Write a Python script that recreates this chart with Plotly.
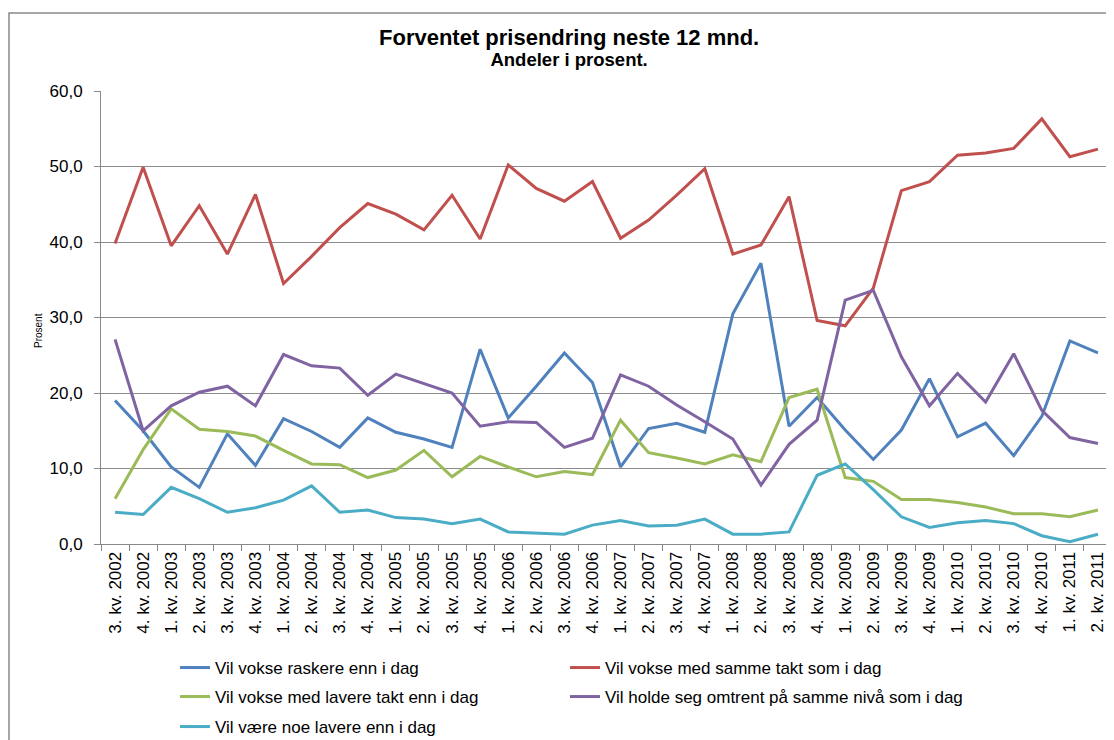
import plotly.graph_objects as go

quarters = [
    "3. kv. 2002", "4. kv. 2002",
    "1. kv. 2003", "2. kv. 2003", "3. kv. 2003", "4. kv. 2003",
    "1. kv. 2004", "2. kv. 2004", "3. kv. 2004", "4. kv. 2004",
    "1. kv. 2005", "2. kv. 2005", "3. kv. 2005", "4. kv. 2005",
    "1. kv. 2006", "2. kv. 2006", "3. kv. 2006", "4. kv. 2006",
    "1. kv. 2007", "2. kv. 2007", "3. kv. 2007", "4. kv. 2007",
    "1. kv. 2008", "2. kv. 2008", "3. kv. 2008", "4. kv. 2008",
    "1. kv. 2009", "2. kv. 2009", "3. kv. 2009", "4. kv. 2009",
    "1. kv. 2010", "2. kv. 2010", "3. kv. 2010", "4. kv. 2010",
    "1. kv. 2011", "2. kv. 2011",
]

raskere = [19.0, 15.0, 10.2, 7.5, 14.6, 10.4, 16.6, 14.9, 12.8, 16.7, 14.8, 13.9,
           12.8, 25.8, 16.7, 20.9, 25.3, 21.4, 10.2, 15.3, 16.0, 14.8, 30.5, 37.2,
           15.6, 19.4, 15.1, 11.2, 15.1, 21.9, 14.2, 16.0, 11.7, 16.9, 26.9, 25.3]
samme_takt = [39.8, 49.9, 39.5, 44.8, 38.4, 46.3, 34.5, 38.1, 41.9, 45.1, 43.7, 41.6,
              46.2, 40.4, 50.2, 47.1, 45.4, 48.0, 40.5, 42.9, 46.2, 49.7, 38.4, 39.6,
              46.0, 29.6, 28.9, 33.9, 46.8, 48.0, 51.5, 51.8, 52.4, 56.3, 51.3, 52.3]
lavere_takt = [6.0, 12.5, 17.9, 15.2, 14.9, 14.3, 12.4, 10.6, 10.5, 8.8, 9.8, 12.4,
               8.9, 11.6, 10.2, 8.9, 9.6, 9.2, 16.4, 12.1, 11.4, 10.6, 11.8, 10.9,
               19.4, 20.5, 8.8, 8.3, 5.9, 5.9, 5.5, 4.9, 4.0, 4.0, 3.6, 4.5]
samme_niva = [27.1, 15.0, 18.3, 20.1, 20.9, 18.3, 25.1, 23.6, 23.3, 19.7, 22.5, 21.3,
              20.0, 15.6, 16.2, 16.1, 12.8, 14.0, 22.4, 20.9, 18.4, 16.2, 13.9, 7.8,
              13.2, 16.4, 32.3, 33.6, 24.8, 18.3, 22.6, 18.8, 25.2, 17.7, 14.1, 13.3]
noe_lavere = [4.2, 3.9, 7.5, 6.0, 4.2, 4.8, 5.8, 7.7, 4.2, 4.5, 3.5, 3.3,
              2.7, 3.3, 1.6, 1.5, 1.3, 2.5, 3.1, 2.4, 2.5, 3.3, 1.3, 1.3,
              1.6, 9.1, 10.6, 7.2, 3.6, 2.2, 2.8, 3.1, 2.7, 1.1, 0.3, 1.3]

series_names = [
    "Vil vokse raskere enn i dag",
    "Vil vokse med samme takt som i dag",
    "Vil vokse med lavere takt enn i dag",
    "Vil holde seg omtrent på samme nivå som i dag",
    "Vil være noe lavere enn i dag",
]
series_values = [raskere, samme_takt, lavere_takt, samme_niva, noe_lavere]
series_colors = ["#4F81BD", "#C0504D", "#9BBB59", "#8064A2", "#4BACC6"]

FONT = "Liberation Sans, Arial, sans-serif"
PAGE_OFF = 8                      # default body margin of the html page
W, H = 1114 - PAGE_OFF, 740 - PAGE_OFF
# plot area in screen pixels: left 101, right 1112, top 91, bottom 544
L = 101 - PAGE_OFF
T = 91 - PAGE_OFF
R = W - (1112 - PAGE_OFF)
B = H - (544 - PAGE_OFF)
PW, PH = W - L - R, H - T - B


def sx(px):
    """screen x pixel -> paper x"""
    return (px - PAGE_OFF - L) / PW


def sy(py):
    """screen y pixel -> paper y"""
    return (H - B - (py - PAGE_OFF)) / PH


# legend slots (line start x, row centre y) in screen pixels
legend_ids = ["legend", "legend2", "legend3", "legend4", "legend5"]
legend_slots = [(183, 668), (573, 668), (183, 697), (573, 697), (183, 727)]
LEG_OFFSET = 8

fig = go.Figure()
for name, vals, col, lid in zip(series_names, series_values, series_colors, legend_ids):
    fig.add_trace(go.Scatter(
        x=quarters, y=vals, name=name, mode="lines",
        line=dict(color=col, width=3), legend=lid,
    ))

legend_layout = {}
for lid, (lx, ly) in zip(legend_ids, legend_slots):
    legend_layout[lid] = dict(
        xref="container", yref="container",
        x=(lx - PAGE_OFF - LEG_OFFSET) / W, xanchor="left",
        y=1 - (ly - PAGE_OFF) / H, yanchor="middle",
        font=dict(family=FONT, size=17, color="#000000"),
        bgcolor="rgba(0,0,0,0)", borderwidth=0,
    )

fig.update_layout(
    width=W, height=H,
    margin=dict(l=L, r=R, t=T, b=B, pad=0, autoexpand=False),
    paper_bgcolor="white", plot_bgcolor="white",
    separators=", ",
    font=dict(family=FONT, size=17, color="#000000"),
    showlegend=True,
    xaxis=dict(
        type="category",
        range=[-0.5, len(quarters) - 0.5],
        tickangle=-90,
        ticks="outside", ticklen=6, tickcolor="#888888",
        tickson="boundaries",
        showline=True, linecolor="#888888", linewidth=1,
        showgrid=False, automargin=False,
        tickfont=dict(family=FONT, size=17, color="#000000"),
    ),
    yaxis=dict(
        range=[0, 60],
        tickvals=[0, 10, 20, 30, 40, 50, 60],
        tickformat=".1f",
        ticks="outside", ticklen=6, tickcolor="#888888",
        ticklabelstandoff=8,
        showline=True, linecolor="#888888", linewidth=1,
        showgrid=True, gridcolor="#8C8C8C", gridwidth=1,
        zeroline=False, automargin=False,
        tickfont=dict(family=FONT, size=17, color="#000000"),
    ),
    annotations=[
        dict(text=("<span style='font-size:22px'><b>Forventet prisendring neste 12 mnd.</b></span>"
                   "<br><span style='font-size:18.5px'><b>Andeler i prosent.</b></span>"),
             xref="paper", yref="paper",
             x=sx(569), y=sy(48),
             xanchor="center", yanchor="middle", showarrow=False,
             font=dict(family=FONT, size=16.5, color="#000000")),
        dict(text="Prosent",
             xref="paper", yref="paper",
             x=sx(38), y=sy(331),
             xanchor="center", yanchor="middle", showarrow=False,
             textangle=-90,
             font=dict(family=FONT, size=10, color="#000000")),
    ],
    shapes=[
        dict(type="rect", xref="paper", yref="paper",
             x0=sx(PAGE_OFF + 1), x1=sx(1140),
             y0=sy(780), y1=sy(13),
             line=dict(color="#8A8A8A", width=1.5), fillcolor="rgba(0,0,0,0)",
             layer="below"),
    ],
    **legend_layout,
)

fig.write_html("out.html")
